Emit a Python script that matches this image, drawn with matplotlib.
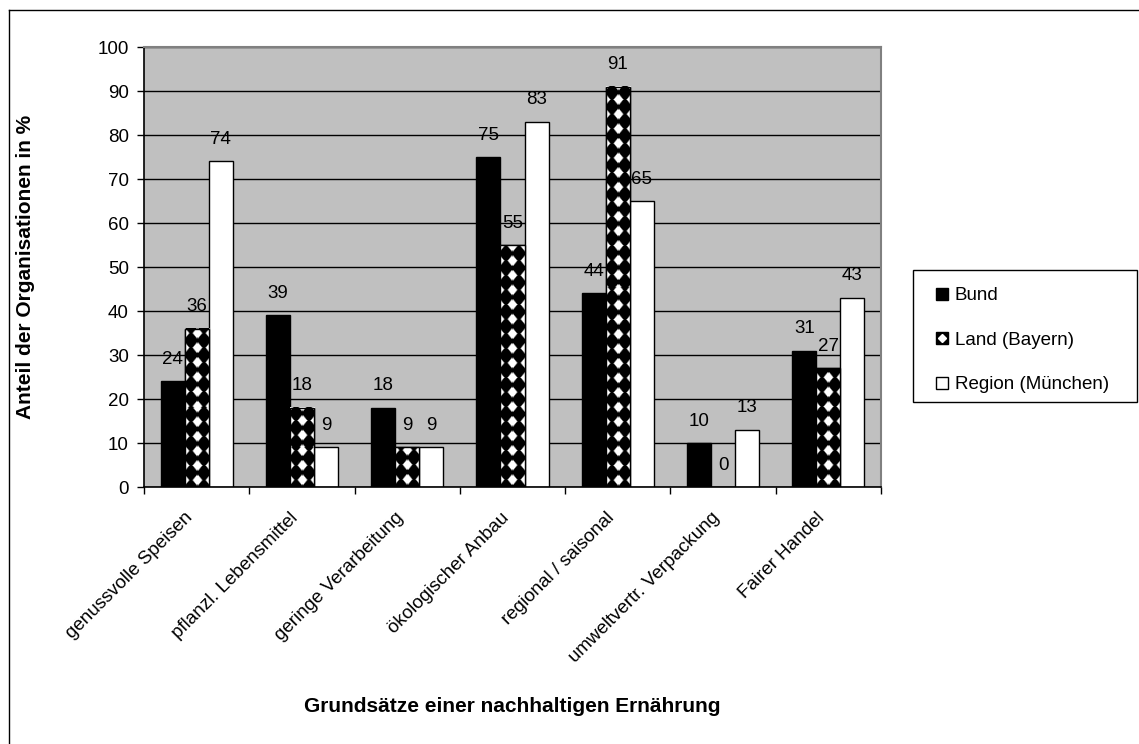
import numpy as np
import matplotlib
matplotlib.use("Agg")
import matplotlib.pyplot as plt
from matplotlib.lines import Line2D
from matplotlib.patches import Rectangle
from matplotlib.legend_handler import HandlerTuple
from matplotlib.transforms import ScaledTranslation

plt.rcParams['font.family'] = ['Liberation Sans', 'DejaVu Sans']

categories = ["genussvolle Speisen", "pflanzl. Lebensmittel", "geringe Verarbeitung",
              "ökologischer Anbau", "regional / saisonal", "umweltvertr. Verpackung",
              "Fairer Handel"]
bund = [24, 39, 18, 75, 44, 10, 31]
land = [36, 18, 9, 55, 91, 0, 27]
region = [74, 9, 9, 83, 65, 13, 43]
series_names = ["Bund", "Land (Bayern)", "Region (München)"]
y_ticks = [0, 10, 20, 30, 40, 50, 60, 70, 80, 90, 100]

W, H, DPI = 1139, 744, 100
fig = plt.figure(figsize=(W / DPI, H / DPI), dpi=DPI)
fig.patch.set_facecolor("white")

# plot area in pixel terms
px_l, px_r, px_t, px_b = 144, 881, 47, 487
ax = fig.add_axes([px_l / W, 1 - px_b / H, (px_r - px_l) / W, (px_b - px_t) / H])
ax.set_facecolor("#C0C0C0")
ax.set_xlim(-0.5, len(categories) - 0.5)
ax.set_ylim(0, 100)

FS = 13.5
ax.set_yticks(y_ticks)
ax.set_yticklabels([str(v) for v in y_ticks], fontsize=FS)
ax.yaxis.grid(True, color="black", linewidth=1.0)
ax.set_axisbelow(True)

ax.set_xticks(np.arange(len(categories) + 1) - 0.5)
ax.set_xticklabels([])
ax.set_xticks(np.arange(len(categories)), minor=True)
ax.set_xticklabels(categories, minor=True, fontsize=FS, rotation=45,
                   ha="right", va="top", rotation_mode="anchor")
ax.tick_params(axis="x", which="minor", length=0, pad=16)
ax.tick_params(axis="both", which="major", length=5, width=1, direction="out", color="black")
ax.tick_params(axis="y", pad=6)
shift = ScaledTranslation(-12 / DPI, 0, fig.dpi_scale_trans)
for lab in ax.get_xticklabels(minor=True):
    lab.set_transform(lab.get_transform() + shift)

for side in ("top", "right"):
    ax.spines[side].set_color("#808080")
    ax.spines[side].set_linewidth(1.5)
for side in ("left", "bottom"):
    ax.spines[side].set_color("black")
    ax.spines[side].set_linewidth(1.2)

bw = 0.228
x = np.arange(len(categories))
b1 = ax.bar(x - bw, bund, bw, color="black", edgecolor="black", linewidth=1, zorder=2)
b2 = ax.bar(x, land, bw, color="black", edgecolor="black", linewidth=1, zorder=2)
b3 = ax.bar(x + bw, region, bw, color="white", edgecolor="black", linewidth=1, zorder=2)


def diamond_fill(rect):
    """Paint a black field with a grid of white diamonds inside a bar."""
    x0, y0 = rect.get_x(), rect.get_y()
    x1, y1 = x0 + rect.get_width(), y0 + rect.get_height()
    (p0x, p0y), (p1x, p1y) = ax.transData.transform([(x0, y0), (x1, y1)])
    w = max(int(round(p1x - p0x)), 1)
    h = int(round(p1y - p0y))
    if h < 1:
        return
    cx = (p0x + p1x) / 2.0
    xs = p0x + np.arange(w) + 0.5
    ys = p1y - np.arange(h) - 0.5
    X, Y = np.meshgrid(xs, ys)
    px, py = 12.0, 14.6
    dx = np.mod(X - cx + px / 2, px) - px / 2
    dy = np.mod(Y - p0y, py) - py / 2
    d = np.abs(dx) / 5.2 + np.abs(dy) / 6.4
    img = np.clip((1.0 - d) * 3.0, 0, 1)
    ax.imshow(img, cmap="gray", vmin=0, vmax=1, extent=(x0, x1, y0, y1),
              aspect="auto", interpolation="nearest", zorder=2.5)


for r in b2:
    diamond_fill(r)
# bar outlines over the texture
ax.bar(x, land, bw, fill=False, edgecolor="black", linewidth=1, zorder=3)
ax.set_xlim(-0.5, len(categories) - 0.5)
ax.set_ylim(0, 100)

for bars, vals in ((b1, bund), (b2, land), (b3, region)):
    for r, v in zip(bars, vals):
        ax.annotate(str(v), (r.get_x() + r.get_width() / 2, v), xytext=(0, 12.5),
                    textcoords="offset points", ha="center", va="baseline",
                    fontsize=FS, zorder=5)

fig.text(26 / W, 1 - ((px_t + px_b) / 2) / H, "Anteil der Organisationen in %",
         rotation=90, ha="center", va="center", fontsize=15, fontweight="bold")
fig.text(((px_l + px_r) / 2) / W, 1 - 706 / H, "Grundsätze einer nachhaltigen Ernährung",
         ha="center", va="center", fontsize=15, fontweight="bold")

# legend
fig.patches.append(Rectangle((913 / W, 1 - 402 / H), 224 / W, 132 / H,
                             transform=fig.transFigure, facecolor="white",
                             edgecolor="black", linewidth=1, zorder=1))
h_bund = Line2D([], [], linestyle="none", marker="s", markersize=9,
                markerfacecolor="black", markeredgecolor="black")
h_land = (Line2D([], [], linestyle="none", marker="s", markersize=9,
                 markerfacecolor="black", markeredgecolor="black"),
          Line2D([], [], linestyle="none", marker="D", markersize=4.5,
                 markerfacecolor="white", markeredgecolor="white"))
h_region = Line2D([], [], linestyle="none", marker="s", markersize=9,
                  markerfacecolor="white", markeredgecolor="black", markeredgewidth=1)
leg = fig.legend([h_bund, h_land, h_region], series_names,
                 handler_map={tuple: HandlerTuple(ndivide=1, pad=0)},
                 loc="upper left", bbox_to_anchor=(925 / W, 1 - 278 / H),
                 frameon=False, fontsize=FS, handlelength=0.8, handletextpad=0.3,
                 labelspacing=1.45, borderpad=0)
leg.set_zorder(2)

# outer frame of the chart sheet
fig.add_artist(Line2D([9 / W, 9 / W], [0, 1 - 9.5 / H], transform=fig.transFigure,
                      color="black", linewidth=1))
fig.add_artist(Line2D([9 / W, 1], [1 - 9.5 / H, 1 - 9.5 / H], transform=fig.transFigure,
                      color="black", linewidth=1))

fig.savefig("out.png", dpi=DPI)
